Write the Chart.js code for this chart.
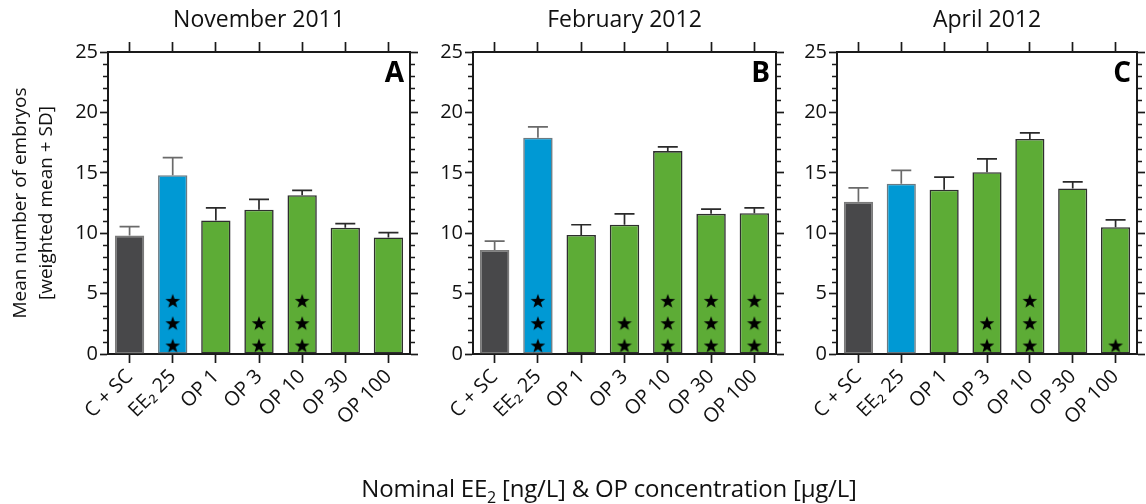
<!DOCTYPE html>
<html lang="en">
<head>
<meta charset="UTF-8">
<title>Mean number of embryos</title>
<script src="https://cdn.jsdelivr.net/npm/chart.js"></script>
<style>
  body { margin: 0; background: #fff; }
  #wrap { position: relative; width: 1146px; height: 504px; overflow: hidden; }
  .panel { position: absolute; top: 0; height: 504px; }
  #xtitle {
    position: absolute; left: 309px; width: 600px; top: 471px;
    text-align: center; font-family: "Open Sans", sans-serif; font-size: 24px; color: #111;
    white-space: nowrap; letter-spacing: -0.2px;
  }
  #xtitle sub { font-size: 16px; }
</style>
</head>
<body>
<div id="wrap">
  <div class="panel" style="left:0;width:422px"><canvas id="chartA"></canvas></div>
  <div class="panel" style="left:422px;width:366px"><canvas id="chartB"></canvas></div>
  <div class="panel" style="left:788px;width:358px"><canvas id="chartC"></canvas></div>
  <div id="xtitle">Nominal EE<sub>2</sub> [ng/L] &amp; OP concentration [µg/L]</div>
</div>

<script>
// treatment groups (same in every panel)
const groups = ['C + SC', 'EE₂ 25', 'OP 1', 'OP 3', 'OP 10', 'OP 30', 'OP 100'];

// weighted mean number of embryos and SD per sampling
const meanNov = [9.8, 14.8, 11.05, 11.95, 13.15, 10.45, 9.65];
const sdNov   = [0.75, 1.45, 1.05, 0.85, 0.4, 0.35, 0.4];
const starsNov = [0, 3, 0, 2, 3, 0, 0];

const meanFeb = [8.6, 17.9, 9.85, 10.7, 16.8, 11.6, 11.65];
const sdFeb   = [0.75, 0.9, 0.85, 0.9, 0.35, 0.4, 0.45];
const starsFeb = [0, 3, 0, 2, 3, 3, 3];

const meanApr = [12.6, 14.1, 13.6, 15.05, 17.8, 13.7, 10.5];
const sdApr   = [1.15, 1.1, 1.05, 1.1, 0.5, 0.55, 0.6];
const starsApr = [0, 0, 0, 2, 3, 0, 1];

// y value of the 1st, 2nd and 3rd significance star inside a bar
const starLevels = [0.7, 2.55, 4.4];

const fillColors   = ['#48484a', '#0099d4', '#5dac36', '#5dac36', '#5dac36', '#5dac36', '#5dac36'];
const borderColors = ['#7a7a7a', '#6b7a82', '#2e2e2e', '#2e2e2e', '#2e2e2e', '#2e2e2e', '#2e2e2e'];

const FONT = '"Open Sans", sans-serif';
const AXIS = '#1a1a1a';

// five-pointed star used as point image
function makeStar(size) {
  const c = document.createElement('canvas');
  c.width = size; c.height = size;
  const g = c.getContext('2d');
  const cx = size / 2, cy = size / 2 + 0.6, ro = size / 2 - 0.3, ri = ro * 0.4;
  g.beginPath();
  for (let i = 0; i < 10; i++) {
    const r = i % 2 ? ri : ro;
    const a = -Math.PI / 2 + i * Math.PI / 5;
    g.lineTo(cx + r * Math.cos(a), cy + r * Math.sin(a));
  }
  g.closePath();
  g.fillStyle = '#000';
  g.fill();
  return c;
}
const starImg = makeStar(16);

// SD whiskers on top of the bars
const errorBars = {
  id: 'errorBars',
  afterDatasetsDraw(chart) {
    const sd = chart.options.plugins.errorBars.sd;
    const meta = chart.getDatasetMeta(0);
    const y = chart.scales.y;
    const ctx = chart.ctx;
    ctx.save();
    ctx.lineWidth = 1.7;
    meta.data.forEach((bar, i) => {
      const v = chart.data.datasets[0].data[i];
      const top = y.getPixelForValue(v + sd[i]);
      const base = y.getPixelForValue(v);
      ctx.strokeStyle = i < 2 ? '#6a6a6a' : '#2a2a2a';
      ctx.beginPath();
      ctx.moveTo(bar.x, base);
      ctx.lineTo(bar.x, top);
      ctx.moveTo(bar.x - 10, top);
      ctx.lineTo(bar.x + 10, top);
      ctx.stroke();
    });
    ctx.restore();
  }
};

// minor ticks every 1 on left and right axes, plus the panel letter
const frameExtras = {
  id: 'frameExtras',
  afterDraw(chart) {
    const { ctx, chartArea } = chart;
    const y = chart.scales.y;
    ctx.save();
    ctx.strokeStyle = AXIS;
    ctx.lineWidth = 1.4;
    for (let v = 1; v < 25; v++) {
      if (v % 5 === 0) continue;
      const py = Math.round(y.getPixelForValue(v)) + 0.5;
      ctx.beginPath();
      ctx.moveTo(chartArea.left, py); ctx.lineTo(chartArea.left - 5, py);
      ctx.moveTo(chartArea.right, py); ctx.lineTo(chartArea.right + 5, py);
      ctx.stroke();
    }
    ctx.fillStyle = '#000';
    ctx.font = 'bold 28px ' + FONT;
    ctx.textAlign = 'right';
    ctx.textBaseline = 'alphabetic';
    ctx.fillText(chart.options.plugins.frameExtras.letter, chartArea.right - 6, chartArea.top + 30);
    ctx.restore();
  }
};

function makePanel(id, title, letter, means, sds, stars, leftWidth, rightWidth, yTitle) {
  const starSets = starLevels.map((lvl, k) => ({
    type: 'line',
    data: stars.map(n => (n > k ? lvl : null)),
    showLine: false,
    pointStyle: starImg,
    pointRadius: 8,
    order: -1
  }));

  new Chart(document.getElementById(id), {
    type: 'bar',
    data: {
      labels: groups,
      datasets: [{
        data: means,
        backgroundColor: fillColors,
        borderColor: borderColors,
        borderWidth: 1.6,
        borderSkipped: false,
        barPercentage: 0.68,
        categoryPercentage: 1
      }].concat(starSets)
    },
    options: {
      responsive: true,
      maintainAspectRatio: false,
      animation: false,
      layout: { padding: 0 },
      plugins: {
        legend: { display: false },
        tooltip: { enabled: false },
        errorBars: { sd: sds },
        frameExtras: { letter: letter }
      },
      scales: {
        x: {
          position: 'bottom',
          offset: true,
          grid: { offset: false, drawOnChartArea: false, tickLength: 9, tickWidth: 1.7, tickColor: AXIS },
          border: { color: AXIS, width: 2 },
          ticks: { color: '#111', font: { family: FONT, size: 20 }, minRotation: 45, maxRotation: 45, padding: 2 },
          afterFit: s => { s.height = 150; }
        },
        x2: {
          position: 'top',
          offset: true,
          grid: { offset: false, drawOnChartArea: false, tickLength: 10, tickWidth: 1.7, tickColor: AXIS },
          border: { color: AXIS, width: 2 },
          ticks: { display: false },
          title: { display: true, text: title, color: '#111', font: { family: FONT, size: 23 }, padding: { top: 7, bottom: 0 } },
          afterFit: s => { s.height = 52; }
        },
        y: {
          position: 'left',
          min: 0, max: 25,
          ticks: { stepSize: 5, color: '#111', font: { family: FONT, size: 20 }, padding: 2 },
          grid: { drawOnChartArea: false, tickLength: 8, tickWidth: 1.7, tickColor: AXIS },
          border: { color: AXIS, width: 2 },
          title: {
            display: !!yTitle,
            text: yTitle || '',
            color: '#111',
            font: { family: FONT, size: 19, lineHeight: 1.35 },
            padding: { top: 8, bottom: 0 }
          },
          afterFit: s => { s.width = leftWidth; }
        },
        y2: {
          position: 'right',
          min: 0, max: 25,
          ticks: { display: false, stepSize: 5 },
          grid: { drawOnChartArea: false, tickLength: 8, tickWidth: 1.7, tickColor: AXIS },
          border: { color: AXIS, width: 2 },
          afterFit: s => { s.width = rightWidth; }
        }
      }
    },
    plugins: [errorBars, frameExtras]
  });
}

makePanel('chartA', 'November 2011', 'A', meanNov, sdNov, starsNov, 108, 12, ['Mean number of embryos', '[weighted mean + SD]']);
makePanel('chartB', 'February 2012', 'B', meanFeb, sdFeb, starsFeb, 51, 12, null);
makePanel('chartC', 'April 2012', 'C', meanApr, sdApr, starsApr, 49, 6, null);
</script>
</body>
</html>
